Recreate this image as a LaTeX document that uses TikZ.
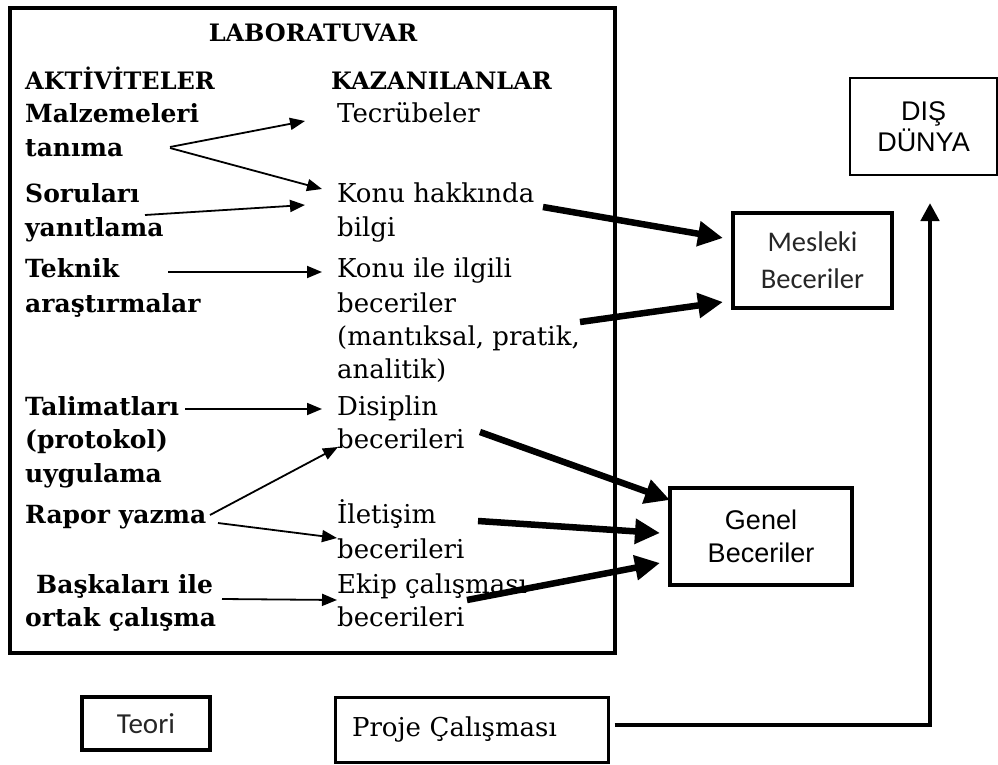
\documentclass[tikz,border=0pt]{standalone}
\usepackage{fontspec}
\setmainfont{DejaVu Serif}
\newfontfamily\arialf{Liberation Sans}
\newfontfamily\calf{Carlito}
\usetikzlibrary{arrows.meta}
\begin{document}
\begin{tikzpicture}[x=1pt,y=-1pt,
  txt/.style={anchor=base west, inner sep=0pt, font=\fontsize{26}{30}\selectfont},
  btxt/.style={anchor=base west, inner sep=0pt, font=\fontsize{25}{30}\selectfont\bfseries},
  htxt/.style={anchor=base west, inner sep=0pt, font=\fontsize{24}{30}\selectfont\bfseries},
  thinarr/.style={-{Triangle[length=15pt,width=12pt]}, line width=1.8pt},
  fatarr/.style={-{Triangle[length=25pt,width=24pt]}, line width=6.5pt},
  vertarr/.style={-{Triangle[length=18pt,width=18pt]}, line width=4.5pt},
  sbox/.style={draw, inner sep=0pt, align=center, font=\arialf\fontsize{27}{31}\selectfont},
  cbox/.style={draw, inner sep=0pt, align=center, text=black!85, font=\calf\fontsize{28.5}{37}\selectfont}]
\useasboundingbox (0,0) rectangle (998,765);

% main laboratory box
\node[draw, line width=4.5pt, minimum width=605pt, minimum height=645pt, inner sep=0pt] (lab) at (312.5,330.5) {};
\node[anchor=base, inner sep=0pt, font=\fontsize{24}{30}\selectfont\bfseries] (title) at (313,42) {LABORATUVAR};

% left column (activities)
\node[htxt] (akt) at (25,90) {AKTİVİTELER};
\node[btxt] (a1) at (25,123) {Malzemeleri};
\node[btxt] (a1b) at (25,156) {tanıma};
\node[btxt] (a2) at (25,202) {Soruları};
\node[btxt] (a2b) at (25,236) {yanıtlama};
\node[btxt] (a3) at (25,277) {Teknik};
\node[btxt] (a3b) at (25,312) {araştırmalar};
\node[btxt] (a4) at (25,415) {Talimatları};
\node[btxt] (a4b) at (25,448) {(protokol)};
\node[btxt] (a4c) at (25,482) {uygulama};
\node[btxt] (a5) at (25,523) {Rapor yazma};
\node[btxt] (a6) at (36,593) {Başkaları ile};
\node[btxt] (a6b) at (25,626) {ortak çalışma};

% right column (gains)
\node[htxt] (kaz) at (331,90) {KAZANILANLAR};
\node[txt] (k1) at (337,123) {Tecrübeler};
\node[txt] (k2) at (337,202) {Konu hakkında};
\node[txt] (k2b) at (337,236) {bilgi};
\node[txt] (k3) at (337,277) {Konu ile ilgili};
\node[txt] (k3b) at (337,312) {beceriler};
\node[txt] (k3c) at (337,345) {(mantıksal, pratik,};
\node[txt] (k3d) at (337,378) {analitik)};
\node[txt] (k4) at (337,415) {Disiplin};
\node[txt] (k4b) at (337,448) {becerileri};
\node[txt] (k5) at (337,523) {İletişim};
\node[txt] (k5b) at (337,558) {becerileri};
\node[txt] (k6) at (337,593) {Ekip çalışması};
\node[txt] (k6b) at (337,626) {becerileri};

% right boxes
\node[sbox, line width=2.5pt, minimum width=147pt, minimum height=97pt] (dis) at (923.5,126.5) {DIŞ\\DÜNYA};
\node[cbox, line width=4pt, minimum width=159pt, minimum height=95pt] (mes) at (812.5,260.5) {Mesleki\\Beceriler};
\node[sbox, line width=4pt, minimum width=182pt, minimum height=97pt, font=\arialf\fontsize{27}{33}\selectfont] (gen) at (761,536.5) {Genel\\Beceriler};
\node[cbox, line width=4pt, minimum width=128pt, minimum height=53pt, font=\calf\fontsize{29}{30}\selectfont] (teo) at (146,723.5) {Teori};
\node[draw, line width=3pt, minimum width=273pt, minimum height=65pt, inner sep=0pt, text width=239pt, align=left, font=\fontsize{26}{30}\selectfont] (pro) at (471.5,729.5) {Proje Çalışması};

% thin arrow end points
\coordinate (t1s) at (170,147); \coordinate (t1e) at (305,121);
\coordinate (t2s) at (170,148); \coordinate (t2e) at (322,189);
\coordinate (t3s) at (145,215); \coordinate (t3e) at (305,205);
\coordinate (t4s) at (168,272); \coordinate (t4e) at (322,272);
\coordinate (t5s) at (185,409); \coordinate (t5e) at (322,409);
\coordinate (t6s) at (210,515); \coordinate (t6e) at (338,447);
\coordinate (t7s) at (218,523); \coordinate (t7e) at (337,538);
\coordinate (t8s) at (222,599); \coordinate (t8e) at (337,600);
\draw[thinarr] (t1s) -- (t1e);
\draw[thinarr] (t2s) -- (t2e);
\draw[thinarr] (t3s) -- (t3e);
\draw[thinarr] (t4s) -- (t4e);
\draw[thinarr] (t5s) -- (t5e);
\draw[thinarr] (t6s) -- (t6e);
\draw[thinarr] (t7s) -- (t7e);
\draw[thinarr] (t8s) -- (t8e);

% thick arrows
\coordinate (f1s) at (543,207); \coordinate (f1e) at (723,238);
\coordinate (f2s) at (580,322); \coordinate (f2e) at (723,302);
\coordinate (f3s) at (480,432); \coordinate (f3e) at (670,500);
\coordinate (f4s) at (478,521); \coordinate (f4e) at (660,533);
\coordinate (f5s) at (467,600); \coordinate (f5e) at (660,563);
\draw[fatarr] (f1s) -- (f1e);
\draw[fatarr] (f2s) -- (f2e);
\draw[fatarr] (f3s) -- (f3e);
\draw[fatarr] (f4s) -- (f4e);
\draw[fatarr] (f5s) -- (f5e);

% project to outside world
\coordinate (up) at (930,203);
\draw[vertarr] ([xshift=5pt,yshift=4.5pt]pro.east) -| (up);
\end{tikzpicture}
\end{document}
